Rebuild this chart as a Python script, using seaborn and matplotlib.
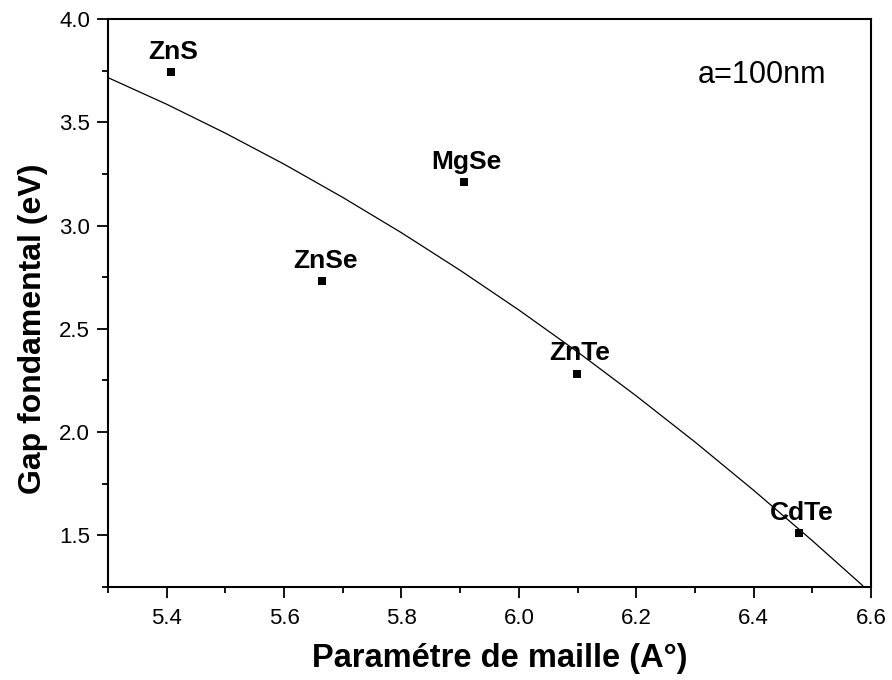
import matplotlib
matplotlib.use("Agg")
import matplotlib.pyplot as plt
import seaborn as sns
import pandas as pd
from matplotlib.ticker import MultipleLocator, FormatStrFormatter

# Data
compounds = ["ZnS", "ZnSe", "MgSe", "ZnTe", "CdTe"]
lattice = [5.407, 5.665, 5.906, 6.099, 6.478]
gap = [3.744, 2.733, 3.212, 2.283, 1.510]

# Curve (fit line)
curve_x = [5.3, 5.4, 5.5, 5.6, 5.7, 5.8, 5.9, 6.0, 6.1, 6.2, 6.3, 6.4, 6.5, 6.586]
curve_y = [3.716, 3.587, 3.447, 3.297, 3.136, 2.965, 2.783, 2.591, 2.388, 2.175, 1.952, 1.718, 1.474, 1.256]

sns.set_theme(style="ticks")
plt.rcParams["font.family"] = ["Liberation Sans", "DejaVu Sans"]
plt.rcParams["text.color"] = "black"
plt.rcParams["axes.labelcolor"] = "black"
plt.rcParams["xtick.color"] = "black"
plt.rcParams["ytick.color"] = "black"

fig = plt.figure(figsize=(8.92, 6.8), dpi=100)
ax = fig.add_axes([0.1211, 0.1368, 0.8554, 0.8353])

df_pts = pd.DataFrame({"x": lattice, "y": gap, "name": compounds})
df_curve = pd.DataFrame({"x": curve_x, "y": curve_y})

sns.lineplot(data=df_curve, x="x", y="y", ax=ax, color="black", linewidth=0.9, sort=True)
sns.scatterplot(data=df_pts, x="x", y="y", ax=ax, marker="s", color="black", s=30,
                edgecolor="black", linewidth=0, zorder=5)

for name, xv, yv in zip(compounds, lattice, gap):
    ax.annotate(name, (xv, yv), xytext=(2, 14.5), textcoords="offset points",
                ha="center", va="center", fontsize=19, fontweight="bold", color="black")

ax.text(6.523, 3.73, "a=100nm", ha="right", va="center", fontsize=22, color="black")

ax.set_xlim(5.3, 6.6)
ax.set_ylim(1.25, 4.0)
ax.xaxis.set_major_locator(MultipleLocator(0.2))
ax.xaxis.set_minor_locator(MultipleLocator(0.1))
ax.yaxis.set_major_locator(MultipleLocator(0.5))
ax.yaxis.set_minor_locator(MultipleLocator(0.25))
ax.xaxis.set_major_formatter(FormatStrFormatter("%.1f"))
ax.yaxis.set_major_formatter(FormatStrFormatter("%.1f"))

ax.tick_params(axis="both", which="major", direction="out", length=8, width=1.3,
               labelsize=16, colors="black", pad=5)
ax.tick_params(axis="both", which="minor", direction="out", length=4, width=1.3, colors="black")
ax.tick_params(axis="x", which="major", pad=7)

for sp in ax.spines.values():
    sp.set_visible(True)
    sp.set_linewidth(1.5)
    sp.set_color("black")

ax.set_xlabel("Paramétre de maille (A°)", fontsize=23.5, fontweight="bold", labelpad=10, color="black")
ax.set_ylabel("Gap fondamental (eV)", fontsize=23, fontweight="bold", labelpad=8, color="black")
ax.xaxis.label.set_x(0.514)
ax.yaxis.label.set_y(0.454)

fig.savefig("out.png", dpi=100)
